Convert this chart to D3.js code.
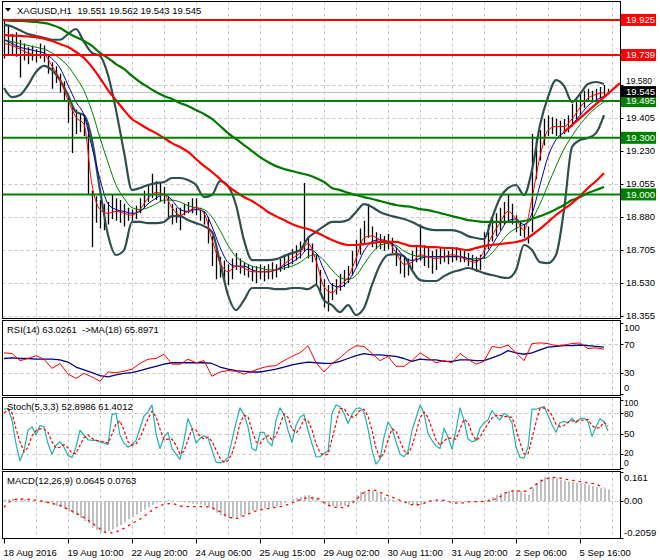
<!DOCTYPE html>
<html><head><meta charset="utf-8">
<script src="https://cdn.jsdelivr.net/npm/d3@7"></script>
<style>
body{margin:0;background:#fff}
svg{display:block}
text{font-family:"Liberation Sans",Arial,sans-serif;font-size:9.5px;fill:#000}
</style>
</head><body>
<svg id="c" width="660" height="560"></svg>
<script>
// ---------------- DATA ----------------
const headerMain = "XAGUSD,H1\u00a0\u00a019.551 19.562 19.543 19.545";
const headerRsi = "RSI(14) 63.0261\u00a0\u00a0->MA(18) 65.8971";
const headerStoch = "Stoch(5,3,3) 52.8986 61.4012";
const headerMacd = "MACD(12,26,9) 0.0645 0.0763";

const timeLabels = ["18 Aug 2016","19 Aug 10:00","22 Aug 20:00","24 Aug 06:00","25 Aug 15:00","29 Aug 02:00","30 Aug 11:00","31 Aug 20:00","2 Sep 06:00","5 Sep 16:00"];
const timeIdx = [0,16,32,48,64,80,96,112,128,144];

const priceTicks = [19.580,19.405,19.230,19.055,18.880,18.705,18.530,18.355];
const levelsRed = [19.925,19.739];
const levelsGreen = [19.495,19.300,19.000];
const lastPrice = 19.545;
const trendIdx = [140,154];
const trendPrice = [19.33,19.59];

const rsiTicks = [100,70,30,0];
const rsiLevels = [70,30];
const stochTicks = [100,80,50,20,0];
const stochLevels = [80,50,20];
const macdTicks = [0.161,0.00,-0.2059];
const macdTickText = ["0.161","0.00","-0.2059"];

// bars (every 2 hours sample)
const barHigh = [
19.92,19.90,19.85,19.86,19.82,19.80,19.78,19.79,19.77,19.80,
19.79,19.74,19.70,19.68,19.64,19.60,19.52,19.47,19.45,19.43,
19.42,19.38,19.02,18.99,18.97,18.95,18.96,19.00,18.98,18.97,
18.95,18.93,18.92,18.94,18.98,19.02,19.05,19.11,19.07,19.06,
19.04,18.99,18.95,18.93,18.93,18.95,18.96,18.98,18.98,18.93,
18.91,18.88,18.78,18.70,18.67,18.65,18.63,18.66,18.69,18.66,
18.64,18.63,18.62,18.62,18.63,18.62,18.63,18.64,18.63,18.66,
18.68,18.69,18.71,18.73,18.75,19.06,18.78,18.74,18.68,18.60,
18.55,18.52,18.53,18.55,18.58,18.60,18.62,18.70,18.76,18.82,
18.86,18.95,18.83,18.80,18.79,18.78,18.79,18.77,18.72,18.68,
18.67,18.66,18.70,18.73,18.84,18.73,18.72,18.70,18.71,18.72,
18.71,18.70,18.72,18.72,18.71,18.70,18.69,18.68,18.67,18.68,
18.80,18.84,18.88,18.90,18.93,18.96,19.00,18.95,18.89,18.86,
18.84,18.83,19.32,19.30,19.34,19.40,19.42,19.41,19.40,19.39,
19.40,19.42,19.48,19.51,19.53,19.55,19.56,19.55,19.56,19.57,
19.58,19.56];
const barLow = [
19.72,19.74,19.74,19.73,19.62,19.71,19.69,19.71,19.70,19.72,
19.70,19.64,19.56,19.59,19.54,19.50,19.38,19.22,19.32,19.33,
19.31,19.00,18.72,18.85,18.82,18.81,18.84,18.87,18.86,18.85,
18.83,18.86,18.86,18.87,18.90,18.93,18.96,18.98,18.97,18.96,
18.95,18.88,18.84,18.85,18.81,18.89,18.90,18.90,18.89,18.86,
18.84,18.74,18.62,18.55,18.56,18.53,18.52,18.55,18.60,18.58,
18.57,18.56,18.54,18.53,18.55,18.54,18.55,18.55,18.56,18.59,
18.60,18.61,18.63,18.65,18.66,18.70,18.66,18.64,18.52,18.47,
18.40,18.38,18.44,18.47,18.49,18.51,18.53,18.57,18.62,18.68,
18.74,18.77,18.72,18.71,18.71,18.70,18.71,18.69,18.62,18.58,
18.56,18.57,18.60,18.64,18.65,18.62,18.61,18.58,18.60,18.63,
18.64,18.63,18.64,18.65,18.64,18.64,18.62,18.60,18.59,18.60,
18.66,18.71,18.75,18.78,18.81,18.84,18.86,18.84,18.80,18.78,
18.77,18.74,18.80,19.08,19.18,19.26,19.31,19.32,19.31,19.30,
19.32,19.33,19.36,19.40,19.42,19.46,19.49,19.49,19.50,19.51,
19.52,19.53];

// lines sampled every 4 hours
const maFast = [
19.80,19.79,19.77,19.75,19.74,19.74,19.68,19.61,19.50,19.41,
19.37,19.05,18.92,18.90,18.91,18.90,18.89,18.92,18.98,19.01,
19.00,18.93,18.89,18.91,18.93,18.90,18.76,18.64,18.59,18.62,
18.61,18.59,18.59,18.59,18.60,18.63,18.66,18.69,18.74,18.65,
18.51,18.48,18.52,18.56,18.66,18.77,18.78,18.76,18.75,18.69,
18.63,18.64,18.68,18.67,18.66,18.67,18.68,18.67,18.65,18.64,
18.70,18.78,18.85,18.91,18.87,18.81,18.98,19.20,19.34,19.36,
19.36,19.40,19.46,19.51,19.53,19.54];
const maMid = [
19.82,19.80,19.78,19.77,19.76,19.75,19.72,19.67,19.58,19.49,
19.42,19.25,19.08,18.95,18.92,18.91,18.90,18.91,18.95,18.98,
19.00,18.97,18.92,18.91,18.92,18.91,18.83,18.72,18.64,18.62,
18.62,18.60,18.59,18.59,18.60,18.62,18.64,18.67,18.71,18.69,
18.60,18.52,18.51,18.54,18.61,18.70,18.75,18.76,18.75,18.72,
18.67,18.65,18.66,18.67,18.67,18.67,18.67,18.67,18.66,18.65,
18.67,18.73,18.80,18.86,18.87,18.84,18.90,19.05,19.20,19.29,
19.33,19.37,19.42,19.47,19.50,19.52];
const maSlow = [
19.82,19.81,19.80,19.79,19.78,19.77,19.75,19.72,19.68,19.62,
19.55,19.44,19.30,19.17,19.05,18.98,18.93,18.92,18.93,18.95,
18.97,18.97,18.96,18.94,18.93,18.92,18.88,18.81,18.73,18.67,
18.64,18.62,18.61,18.60,18.60,18.61,18.62,18.64,18.67,18.68,
18.65,18.60,18.56,18.55,18.57,18.63,18.69,18.73,18.74,18.73,
18.70,18.68,18.67,18.67,18.67,18.67,18.67,18.67,18.66,18.66,
18.66,18.69,18.74,18.79,18.82,18.84,18.87,18.95,19.05,19.15,
19.24,19.31,19.37,19.42,19.46,19.49];
const bbUpper = [
19.900,19.890,19.870,19.850,19.840,19.830,19.820,19.820,19.850,19.877,
19.808,19.750,19.734,19.633,19.447,19.225,19.023,19.034,19.050,19.060,
19.066,19.087,19.087,19.076,19.050,18.986,18.997,19.071,19.044,18.944,
18.758,18.652,18.652,18.652,18.657,18.673,18.689,18.705,18.769,18.801,
18.832,18.854,18.854,18.864,18.907,18.949,18.933,18.907,18.891,18.880,
18.870,18.854,18.832,18.816,18.811,18.811,18.811,18.801,18.779,18.769,
18.763,18.875,18.981,19.034,19.050,18.997,19.129,19.368,19.516,19.606,
19.575,19.490,19.532,19.585,19.596,19.585];
const bbLower = [
19.564,19.516,19.527,19.580,19.649,19.681,19.659,19.606,19.527,19.437,
19.421,19.288,19.023,18.785,18.679,18.705,18.854,18.854,18.848,18.848,
18.854,18.885,18.885,18.864,18.848,18.832,18.801,18.641,18.467,18.387,
18.440,18.504,18.504,18.504,18.498,18.498,18.504,18.504,18.498,18.520,
18.440,18.413,18.376,18.413,18.361,18.398,18.520,18.626,18.679,18.684,
18.673,18.599,18.546,18.541,18.541,18.567,18.588,18.599,18.610,18.599,
18.583,18.573,18.562,18.557,18.599,18.732,18.705,18.641,18.636,18.679,
18.917,19.251,19.288,19.299,19.325,19.421];
const ma100 = [
19.845,19.842,19.840,19.837,19.834,19.826,19.813,19.797,19.781,19.755,
19.723,19.675,19.617,19.553,19.500,19.447,19.400,19.373,19.347,19.325,
19.299,19.272,19.251,19.225,19.188,19.151,19.119,19.082,19.044,19.013,
18.986,18.965,18.938,18.907,18.885,18.864,18.843,18.827,18.817,18.800,
18.779,18.758,18.742,18.732,18.732,18.737,18.742,18.748,18.748,18.748,
18.737,18.726,18.726,18.721,18.721,18.716,18.716,18.710,18.705,18.716,
18.726,18.732,18.737,18.742,18.748,18.758,18.785,18.817,18.854,18.891,
18.922,18.954,18.991,19.034,19.071,19.113];
const ma200 = [
19.925,19.920,19.920,19.917,19.914,19.909,19.898,19.882,19.856,19.834,
19.813,19.787,19.750,19.723,19.691,19.665,19.628,19.596,19.569,19.543,
19.522,19.506,19.485,19.469,19.447,19.426,19.400,19.363,19.325,19.294,
19.262,19.230,19.198,19.172,19.150,19.135,19.124,19.113,19.103,19.087,
19.066,19.034,19.023,19.008,18.997,18.986,18.976,18.965,18.954,18.944,
18.938,18.933,18.922,18.917,18.907,18.896,18.885,18.875,18.864,18.859,
18.854,18.854,18.854,18.854,18.854,18.859,18.870,18.885,18.901,18.922,
18.944,18.970,18.986,19.008,19.023,19.040];

const rsi = [
58,57,47,50,54,49,36,43,28,22,
29,24,18,31,30,32,35,43,49,50,
56,42,42,49,44,47,25,31,33,32,
28,32,36,39,40,47,53,58,68,44,
31,43,51,61,68,67,57,47,53,39,
39,47,58,51,44,47,44,57,49,42,
46,67,65,69,58,47,71,72,71,68,
69,71,72,64,65,63];
const rsiMa = [
50,51,50,50,49,49,49,48,45,38,
34,30,26,24,27,29,30,33,36,39,
42,44,44,44,44,44,43,38,35,33,
32,31,31,33,35,38,41,43,45,44,
43,43,46,50,54,57,55,55,54,53,
50,46,49,48,48,46,46,48,48,47,
47,51,55,61,58,56,58,62,66,67,
68,68,69,68,67,66];

const stochMain = [
86,87,70,35,10,25,55,60,48,62,
60,35,20,33,38,30,18,15,30,55,
48,41,40,40,38,36,34,78,80,48,
36,30,34,40,58,76,82,92,50,28,
45,52,28,20,12,40,72,58,36,43,
47,44,26,8,7,9,15,40,66,88,
78,60,28,25,52,52,38,32,70,88,
78,55,37,62,74,78,55,35,16,16,
21,24,80,92,90,80,65,78,87,88,
82,57,26,5,12,45,67,58,38,20,
16,24,55,73,92,80,50,40,32,28,
58,45,27,55,88,70,42,38,40,58,
66,70,84,76,70,80,76,66,30,15,
14,30,86,86,88,90,77,63,52,66,
68,66,73,66,72,73,68,46,60,72,
68,54];
const stochSignal = [
80,86,81,57,38,23,30,47,54,57,
57,52,38,29,30,34,29,21,21,33,
44,48,43,40,39,38,36,49,64,69,
55,38,33,35,44,58,72,83,75,57,
41,42,42,33,20,24,41,57,55,46,
42,45,39,26,14,8,10,21,40,65,
77,75,55,38,35,43,47,41,47,63,
79,74,57,51,58,71,69,56,35,22,
18,20,42,65,87,87,78,74,77,84,
86,76,55,29,14,21,41,57,54,39,
25,20,32,51,73,82,74,57,41,33,
39,44,43,42,57,71,67,50,40,45,
55,65,73,77,77,75,75,74,57,37,
20,20,43,67,87,88,85,77,64,60,
62,67,69,68,70,70,71,62,58,59,
67,61];

const macdHist = [
0.008,0.01,0.012,0.012,0.01,0.01,0.008,0.004,0.0,-0.004,
-0.008,-0.012,-0.02,-0.028,-0.035,-0.045,-0.06,-0.07,-0.078,-0.095,
-0.112,-0.125,-0.148,-0.162,-0.175,-0.178,-0.17,-0.158,-0.145,-0.133,
-0.118,-0.102,-0.09,-0.075,-0.06,-0.048,-0.035,-0.022,-0.01,-0.004,
0.002,0.005,0.003,-0.002,-0.005,-0.009,-0.012,-0.015,-0.018,-0.02,
-0.025,-0.035,-0.05,-0.065,-0.078,-0.088,-0.095,-0.096,-0.092,-0.087,
-0.075,-0.065,-0.056,-0.05,-0.045,-0.042,-0.038,-0.034,-0.028,-0.022,
-0.012,0.0,0.01,0.018,0.024,0.03,0.033,0.025,0.012,-0.005,
-0.02,-0.027,-0.03,-0.032,-0.03,-0.025,-0.018,0.005,0.033,0.05,
0.057,0.061,0.06,0.05,0.038,0.022,0.012,0.008,0.004,-0.007,
-0.012,-0.018,-0.024,-0.03,-0.025,-0.01,-0.002,0.004,0.006,0.003,
0.0,-0.003,-0.006,-0.007,-0.005,-0.004,-0.004,-0.002,0.0,-0.002,
0.002,0.012,0.022,0.033,0.043,0.05,0.058,0.062,0.062,0.055,
0.04,0.035,0.075,0.1,0.12,0.133,0.136,0.132,0.126,0.118,
0.113,0.108,0.105,0.1,0.097,0.093,0.088,0.083,0.078,0.074,
0.068,0.064];
const macdSignal = [
-0.035,0.003,0.011,0.009,0.005,-0.004,-0.014,-0.024,-0.046,-0.068,
-0.092,-0.122,-0.155,-0.178,-0.172,-0.152,-0.125,-0.102,-0.068,-0.038,
-0.02,-0.015,-0.028,-0.031,-0.031,-0.031,-0.038,-0.06,-0.088,-0.097,
-0.082,-0.064,-0.05,-0.042,-0.035,-0.027,-0.011,0.006,0.018,0.017,
-0.01,-0.032,-0.037,-0.027,0.005,0.048,0.061,0.048,0.03,0.013,
-0.005,-0.02,-0.02,-0.004,0.005,0.003,-0.008,-0.013,-0.005,-0.004,
-0.002,0.004,0.024,0.05,0.057,0.053,0.075,0.108,0.126,0.131,
0.123,0.115,0.108,0.1,0.093,0.072];

// ---------------- CHART ----------------
const svg = d3.select('#c');
const L = 2.5, R = 620.5;
const panels = {main:[1.5,318.5], rsi:[320.5,395.5], stoch:[397.5,469.5], macd:[471.5,538.5]};

const x = d3.scaleLinear().domain([0,151]).range([4,608]);
const yP = d3.scaleLinear().domain([18.345,20.020]).range([318,2]);
const yR = d3.scaleLinear().domain([0,100]).range([394,323]);
const yS = d3.scaleLinear().domain([0,100]).range([467.6,399.7]);
const yM = d3.scaleLinear().domain([-0.2059,0.161]).range([538,472]);

const defs = svg.append('defs');
Object.entries(panels).forEach(([k,[t,b]])=>{
  defs.append('clipPath').attr('id','clip-'+k).append('rect')
    .attr('x',L).attr('y',t).attr('width',R-L).attr('height',b-t);
});

const gridColor = '#c4c4c4';
const vGrid = d3.range(1,20).map(m=>m*8);
Object.entries(panels).forEach(([k,[t,b]])=>{
  const g = svg.append('g').attr('clip-path',`url(#clip-${k})`);
  g.selectAll('line.v').data(vGrid).join('line')
    .attr('x1',d=>Math.round(x(d))+0.5).attr('x2',d=>Math.round(x(d))+0.5)
    .attr('y1',t).attr('y2',b)
    .attr('stroke',gridColor).attr('stroke-dasharray','3,3');
});

const gMain = svg.append('g').attr('clip-path','url(#clip-main)');
gMain.selectAll('line.h').data(priceTicks).join('line')
  .attr('x1',L).attr('x2',R)
  .attr('y1',d=>Math.round(yP(d))+0.5).attr('y2',d=>Math.round(yP(d))+0.5)
  .attr('stroke',gridColor).attr('stroke-dasharray','3,3');
gMain.append('line').attr('x1',L).attr('x2',R)
  .attr('y1',Math.round(yP(lastPrice))+0.5).attr('y2',Math.round(yP(lastPrice))+0.5)
  .attr('stroke','#c0c0c0');

gMain.selectAll('line.bar').data(barHigh).join('line')
  .attr('x1',(d,i)=>Math.round(x(i))+0.5).attr('x2',(d,i)=>Math.round(x(i))+0.5)
  .attr('y1',d=>yP(d)).attr('y2',(d,i)=>yP(barLow[i]))
  .attr('stroke','#000').attr('stroke-width',1.3);

const lineP = d3.line().x((d,i)=>x(i*2)).y(d=>yP(d)).curve(d3.curveMonotoneX);
function addLine(g, data, gen, color, w, dash){
  const p = g.append('path').datum(data).attr('d',gen)
    .attr('fill','none').attr('stroke',color).attr('stroke-width',w)
    .attr('stroke-linejoin','round');
  if(dash) p.attr('stroke-dasharray',dash);
  return p;
}
addLine(gMain, bbUpper, lineP, '#2f4f4f', 2.2);
addLine(gMain, bbLower, lineP, '#2f4f4f', 2.2);
addLine(gMain, maSlow, lineP, '#008000', 1);
addLine(gMain, maMid, lineP, '#0000b0', 1);
addLine(gMain, maFast, lineP, '#ff0000', 1);
addLine(gMain, ma200, lineP, '#007800', 2.2);
addLine(gMain, ma100, lineP, '#ff0000', 2.2);

gMain.selectAll('line.lr').data(levelsRed).join('line')
  .attr('x1',L).attr('x2',R).attr('y1',d=>yP(d)).attr('y2',d=>yP(d))
  .attr('stroke','#ff0000').attr('stroke-width',2);
gMain.selectAll('line.lg').data(levelsGreen).join('line')
  .attr('x1',L).attr('x2',R).attr('y1',d=>yP(d)).attr('y2',d=>yP(d))
  .attr('stroke','#008000').attr('stroke-width',2);
gMain.append('line')
  .attr('x1',x(trendIdx[0])).attr('y1',yP(trendPrice[0]))
  .attr('x2',x(trendIdx[1])).attr('y2',yP(trendPrice[1]))
  .attr('stroke','#ff0000').attr('stroke-width',2.2);

// RSI
const gR = svg.append('g').attr('clip-path','url(#clip-rsi)');
gR.selectAll('line.h').data(rsiLevels).join('line')
  .attr('x1',L).attr('x2',R).attr('y1',d=>Math.round(yR(d))+0.5).attr('y2',d=>Math.round(yR(d))+0.5)
  .attr('stroke',gridColor).attr('stroke-dasharray','3,3');
const lineR = d3.line().x((d,i)=>x(i*2)).y(d=>yR(d));
addLine(gR, rsiMa, lineR, '#000080', 1.3);
addLine(gR, rsi, lineR, '#ff0000', 1);

// Stoch
const gS = svg.append('g').attr('clip-path','url(#clip-stoch)');
gS.selectAll('line.h').data(stochLevels).join('line')
  .attr('x1',L).attr('x2',R).attr('y1',d=>Math.round(yS(d))+0.5).attr('y2',d=>Math.round(yS(d))+0.5)
  .attr('stroke',gridColor).attr('stroke-dasharray','3,3');
const lineS = d3.line().x((d,i)=>x(i)).y(d=>yS(d));
addLine(gS, stochMain, lineS, '#20b2aa', 1.2);
addLine(gS, stochSignal, lineS, '#ff0000', 1.2, '3,2');

// MACD
const gM = svg.append('g').attr('clip-path','url(#clip-macd)');
gM.append('line').attr('x1',L).attr('x2',R)
  .attr('y1',Math.round(yM(0))+0.5).attr('y2',Math.round(yM(0))+0.5)
  .attr('stroke',gridColor).attr('stroke-dasharray','3,3');
gM.selectAll('line.hist').data(macdHist).join('line')
  .attr('x1',(d,i)=>Math.round(x(i))+1).attr('x2',(d,i)=>Math.round(x(i))+1)
  .attr('y1',yM(0)).attr('y2',d=>yM(d))
  .attr('stroke','#c0c0c0').attr('stroke-width',2);
const lineM = d3.line().x((d,i)=>x(i*2)).y(d=>yM(d)).curve(d3.curveMonotoneX);
addLine(gM, macdSignal, lineM, '#ff0000', 1.3, '2.5,4');

// frames
Object.values(panels).forEach(([t,b])=>{
  svg.append('rect').attr('x',L).attr('y',t).attr('width',R-L).attr('height',b-t)
    .attr('fill','none').attr('stroke','#000').attr('stroke-width',1);
});

// right axis - price
const gPA = svg.append('g');
gPA.selectAll('line').data(priceTicks).join('line')
  .attr('x1',R).attr('x2',R+3).attr('y1',d=>Math.round(yP(d))+0.5).attr('y2',d=>Math.round(yP(d))+0.5)
  .attr('stroke','#000');
gPA.selectAll('text').data(priceTicks).join('text')
  .attr('x',626).attr('y',d=>yP(d)).attr('dy',d=>d===19.580?'-0.1em':'0.35em')
  .style('font-size',d=>d===19.580?'8.5px':null)
  .text(d=>d3.format('.3f')(d));

function levelBox(v, fill, h){
  const g = svg.append('g');
  g.append('rect').attr('x',621).attr('y',yP(v)-h/2).attr('width',35).attr('height',h).attr('fill',fill);
  g.append('text').attr('x',626).attr('y',yP(v)).attr('dy','0.35em').style('fill','#fff').text(d3.format('.3f')(v));
}
levelsRed.forEach(v=>levelBox(v,'#ff0000',12));
levelsGreen.forEach(v=>levelBox(v,'#008000',12));
levelBox(lastPrice,'#000',11);

// sub axes
function subAxis(vals, texts, scale, offsets, sizes){
  const g = svg.append('g');
  vals.forEach((v,i)=>{
    const yy = scale(v)+offsets[i];
    g.append('line').attr('x1',R).attr('x2',R+3).attr('y1',Math.round(scale(v))+0.5).attr('y2',Math.round(scale(v))+0.5).attr('stroke','#000');
    const t = g.append('text').attr('x',624).attr('y',yy).attr('dy','0.35em').text(texts[i]);
    if(sizes && sizes[i]) t.style('font-size',sizes[i]+'px');
  });
}
subAxis(rsiTicks, rsiTicks.map(String), yR, [5,0,0,-6]);
subAxis(stochTicks, stochTicks.map(String), yS, [3.5,0.5,0,-0.5,-4.5], [8.5,8.5,9.5,8.5,8.5]);
subAxis(macdTicks, macdTickText, yM, [6,0,-5]);

// time axis
const xAxis = d3.axisBottom(x).tickValues(timeIdx).tickFormat((d,i)=>timeLabels[i]).tickSize(5).tickPadding(6);
const gx = svg.append('g').attr('transform','translate(0,538.5)').call(xAxis);
gx.attr('font-size',null).attr('font-family',null);
gx.select('.domain').remove();
gx.selectAll('text').attr('text-anchor','start').attr('x',-1);

// headers
svg.append('path').attr('d','M5,8 L11,8 L8,11.5 Z').attr('fill','#000');
svg.append('text').attr('x',17).attr('y',11).attr('dy','0.35em').text(headerMain);
svg.append('text').attr('x',7).attr('y',330).attr('dy','0.35em').text(headerRsi);
svg.append('text').attr('x',7).attr('y',407).attr('dy','0.35em').text(headerStoch);
svg.append('text').attr('x',7).attr('y',481).attr('dy','0.35em').text(headerMacd);
</script>
</body></html>
